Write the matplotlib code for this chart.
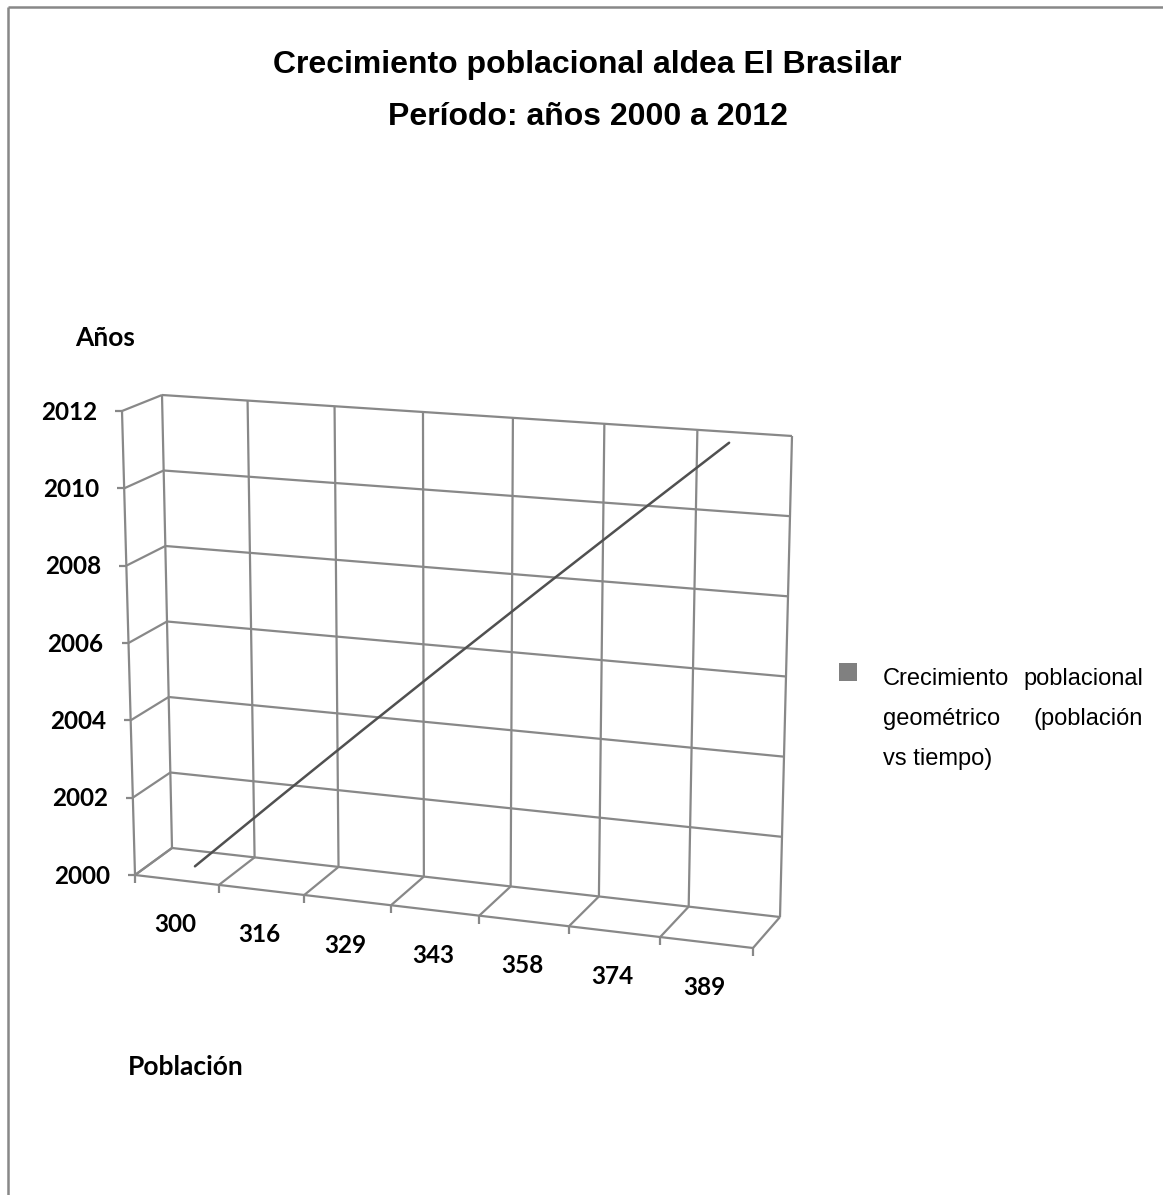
import matplotlib
matplotlib.use('Agg')
from matplotlib import pyplot as plt

### Data
poblacion = ['300', '316', '329', '343', '358', '374', '389']
anios = [2000, 2002, 2004, 2006, 2008, 2010, 2012]
year_ticks = [2000, 2002, 2004, 2006, 2008, 2010, 2012]
titulo = ['Crecimiento poblacional aldea El Brasilar', 'Período: años 2000 a 2012']
leyenda = [('Crecimiento', 'poblacional'), ('geométrico', '(población'), ('vs tiempo)', None)]

### Canvas (pixel coordinates)
W, H = 1163, 1195
fig = plt.figure(figsize=(W / 100, H / 100), dpi=100)
ax = fig.add_axes([0, 0, 1, 1])
ax.set_xlim(0, W)
ax.set_ylim(H, 0)
ax.axis('off')

grid_c = '#888888'
lw = 1.6

# Box corners of the fake 3D plot area (front face d=0, back face d=1)
FBL, FBR, FTL, FTR = (135, 875), (753, 948), (122, 411), (762, 456)
BBL, BBR, BTL, BTR = (172, 848), (780, 917), (162, 395), (792, 436)
K = -0.057  # perspective warp along the category axis


def lerp(a, b, t):
    return (a[0] + (b[0] - a[0]) * t, a[1] + (b[1] - a[1]) * t)


def proj(u, v, d):
    u = u * (1 + K) / (1 + K * u)
    front = lerp(lerp(FBL, FBR, u), lerp(FTL, FTR, u), v)
    back = lerp(lerp(BBL, BBR, u), lerp(BTL, BTR, u), v)
    return lerp(front, back, d)


def seg(p, q, **kw):
    ax.plot([p[0], q[0]], [p[1], q[1]], color=grid_c, lw=lw,
            solid_capstyle='butt', **kw)


n = len(poblacion)
ymin, ymax = year_ticks[0], year_ticks[-1]


def yv(y):
    return (y - ymin) / (ymax - ymin)


tick_font = dict(fontsize=17.5, fontweight='bold', family='Lato', color='black')

# Back wall and left wall grid
for y in year_ticks:
    v = yv(y)
    seg(proj(0, v, 1), proj(1, v, 1))
    seg(proj(0, v, 0), proj(0, v, 1))
    p = proj(0, v, 0)
    seg((p[0] - 7, p[1]), p)
    ax.text(p[0] - 25, p[1] + 1, str(y), ha='right', va='center', **tick_font)

# Category boundaries: back wall verticals and floor depth lines
for i in range(n + 1):
    u = i / n
    seg(proj(u, 0, 1), proj(u, 1, 1))
    seg(proj(u, 0, 0), proj(u, 0, 1))
    p = proj(u, 0, 0)
    seg(p, (p[0], p[1] + 8))

# Axes edges
seg(proj(0, 0, 0), proj(0, 1, 0))
seg(proj(0, 0, 0), proj(1, 0, 0))

# Category labels
for i, lab in enumerate(poblacion):
    p = proj((i + 0.5) / n, 0, 0)
    ax.text(p[0] - 2, p[1] + 45, lab, ha='center', va='center', **tick_font)

# Series line
pts = [proj((i + 0.5) / n, yv(y), 0.5) for i, y in enumerate(anios)]
ax.plot([p[0] for p in pts], [p[1] for p in pts], color='#505050', lw=1.8,
        solid_capstyle='round', zorder=5)

# Titles
ax.text(W / 2 + 6, 65, titulo[0], ha='center', va='center', fontsize=23,
        fontweight='bold', family='Liberation Sans')
ax.text(W / 2 + 6, 117, titulo[1], ha='center', va='center', fontsize=23,
        fontweight='bold', family='Liberation Sans')

# Axis titles
ax.text(75, 338, 'Años', ha='left', va='center', fontsize=19,
        fontweight='bold', family='Lato', color='black')
ax.text(128, 1067, 'Población', ha='left', va='center', fontsize=19,
        fontweight='bold', family='Lato', color='black')

# Legend (justified text)
ax.scatter([848], [672], marker='s', s=160, color='#808080', linewidths=0)
for k, (left, right) in enumerate(leyenda):
    yy = 679 + k * 40
    ax.text(883, yy, left, ha='left', va='center', fontsize=17,
            family='Liberation Sans')
    if right:
        ax.text(1143, yy, right, ha='right', va='center', fontsize=17,
                family='Liberation Sans')

# Frame at top and left
ax.plot([8, W], [7, 7], color='#888888', lw=1.8, solid_capstyle='butt')
ax.plot([8, 8], [7, H], color='#888888', lw=1.8, solid_capstyle='butt')

plt.savefig('out.png', dpi=100)
